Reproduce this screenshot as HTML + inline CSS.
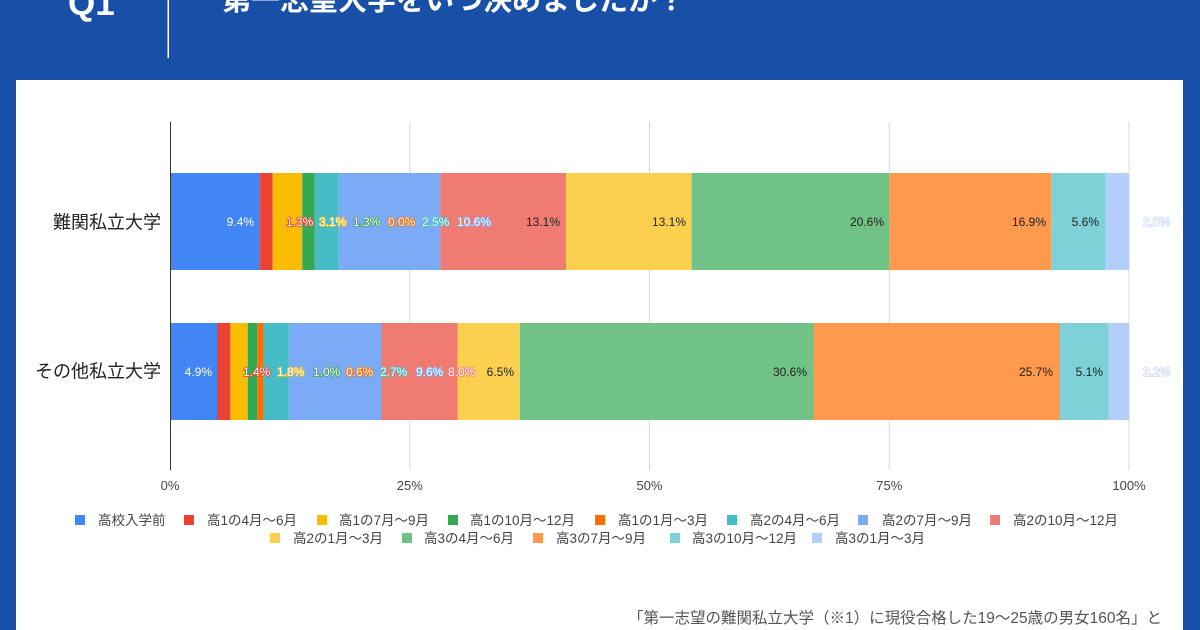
<!DOCTYPE html>
<html lang="ja">
<head>
<meta charset="utf-8">
<style>
  html,body{margin:0;padding:0;width:1200px;height:630px;overflow:hidden;background:#1750a6;}
  svg{display:block;}
  text{font-family:"Liberation Sans","Noto Sans CJK JP",sans-serif;}
</style>
</head>
<body>
<svg width="1200" height="630" viewBox="0 0 1200 630" xmlns="http://www.w3.org/2000/svg">
  <rect x="0" y="0" width="1200" height="630" fill="#1750a6"/>
  <!-- header -->
  <text x="68" y="15" font-size="35" font-weight="bold" fill="#ffffff">Q1</text>
  <rect x="167.5" y="0" width="1.5" height="58" fill="#ffffff"/>
  <text x="222" y="10" font-size="29" font-weight="bold" fill="#ffffff">第一志望大学をいつ決めましたか？</text>

  <!-- card -->
  <rect x="16" y="80" width="1167" height="560" fill="#ffffff"/>

  <!-- gridlines -->
  <g stroke="#d9d9d9" stroke-width="1">
    <line x1="409.75" y1="122" x2="409.75" y2="470"/>
    <line x1="649.5" y1="122" x2="649.5" y2="470"/>
    <line x1="889.25" y1="122" x2="889.25" y2="470"/>
    <line x1="1129" y1="122" x2="1129" y2="470"/>
  </g>

  <!-- bar 1 -->
  <g>
    <rect x="170" y="173" width="90.1" height="97" fill="#4285f4"/>
    <rect x="260.1" y="173" width="12.5" height="97" fill="#ea4335"/>
    <rect x="272.6" y="173" width="29.7" height="97" fill="#fbbc04"/>
    <rect x="302.3" y="173" width="12.5" height="97" fill="#34a853"/>
    <rect x="314.8" y="173" width="24" height="97" fill="#46bdc6"/>
    <rect x="338.8" y="173" width="101.6" height="97" fill="#7baaf7"/>
    <rect x="440.4" y="173" width="125.7" height="97" fill="#f07b72"/>
    <rect x="566.1" y="173" width="125.6" height="97" fill="#fcd04f"/>
    <rect x="691.7" y="173" width="197.55" height="97" fill="#71c287"/>
    <rect x="889.25" y="173" width="162.05" height="97" fill="#ff994d"/>
    <rect x="1051.3" y="173" width="53.7" height="97" fill="#7ed1d7"/>
    <rect x="1105" y="173" width="24" height="97" fill="#b3cefb"/>
  </g>
  <!-- bar 2 -->
  <g>
    <rect x="170" y="323" width="47" height="97" fill="#4285f4"/>
    <rect x="217" y="323" width="13.4" height="97" fill="#ea4335"/>
    <rect x="230.4" y="323" width="17.3" height="97" fill="#fbbc04"/>
    <rect x="247.7" y="323" width="9.6" height="97" fill="#34a853"/>
    <rect x="257.3" y="323" width="5.7" height="97" fill="#ff6d01"/>
    <rect x="263" y="323" width="25.9" height="97" fill="#46bdc6"/>
    <rect x="288.9" y="323" width="92.1" height="97" fill="#7baaf7"/>
    <rect x="381" y="323" width="76.7" height="97" fill="#f07b72"/>
    <rect x="457.7" y="323" width="62.3" height="97" fill="#fcd04f"/>
    <rect x="520" y="323" width="293.5" height="97" fill="#71c287"/>
    <rect x="813.5" y="323" width="246.5" height="97" fill="#ff994d"/>
    <rect x="1060" y="323" width="48.9" height="97" fill="#7ed1d7"/>
    <rect x="1108.9" y="323" width="20.1" height="97" fill="#b3cefb"/>
  </g>

  <!-- baseline axis -->
  <line x1="170.5" y1="122" x2="170.5" y2="470" stroke="#333333" stroke-width="1"/>

  <!-- category labels -->
  <text x="161" y="228.5" font-size="18" fill="#222222" text-anchor="end">難関私立大学</text>
  <text x="161" y="377.5" font-size="18" fill="#222222" text-anchor="end">その他私立大学</text>

  <!-- axis tick labels -->
  <g font-size="13" fill="#444444" text-anchor="middle">
    <text x="170" y="490">0%</text>
    <text x="409.75" y="490">25%</text>
    <text x="649.5" y="490">50%</text>
    <text x="889.25" y="490">75%</text>
    <text x="1129" y="490">100%</text>
  </g>

  <!-- data labels bar 1 -->
  <g font-size="12">
    <text x="254" y="226" fill="#ffffff" text-anchor="end">9.4%</text>
    <g fill="#ffffff" stroke-width="1.6" paint-order="stroke" stroke-linejoin="round">
      <text x="286" y="226" stroke="#ea4335">1.3%</text>
      <text x="319" y="226" stroke="#fbbc04">3.1%</text>
      <text x="353" y="226" stroke="#34a853">1.3%</text>
      <text x="388" y="226" stroke="#ff6d01">0.0%</text>
      <text x="422" y="226" stroke="#46bdc6">2.5%</text>
      <text x="457" y="226" stroke="#7baaf7">10.6%</text>
    </g>
    <text x="560" y="226" fill="#222222" text-anchor="end">13.1%</text>
    <text x="686" y="226" fill="#222222" text-anchor="end">13.1%</text>
    <text x="884" y="226" fill="#222222" text-anchor="end">20.6%</text>
    <text x="1046" y="226" fill="#222222" text-anchor="end">16.9%</text>
    <text x="1099" y="226" fill="#222222" text-anchor="end">5.6%</text>
    <text x="1143" y="226" fill="#ffffff" stroke="#c9d9f8" stroke-width="1.4" paint-order="stroke">2.5%</text>
  </g>
  <!-- data labels bar 2 -->
  <g font-size="12">
    <text x="212" y="376" fill="#ffffff" text-anchor="end">4.9%</text>
    <g fill="#ffffff" stroke-width="1.6" paint-order="stroke" stroke-linejoin="round">
      <text x="243" y="376" stroke="#ea4335">1.4%</text>
      <text x="277" y="376" stroke="#fbbc04">1.8%</text>
      <text x="313" y="376" stroke="#34a853">1.0%</text>
      <text x="346" y="376" stroke="#ff6d01">0.6%</text>
      <text x="380" y="376" stroke="#46bdc6">2.7%</text>
      <text x="416" y="376" stroke="#7baaf7">9.6%</text>
      <text x="448" y="376" stroke="#f07b72">8.0%</text>
    </g>
    <text x="514" y="376" fill="#222222" text-anchor="end">6.5%</text>
    <text x="807" y="376" fill="#222222" text-anchor="end">30.6%</text>
    <text x="1053" y="376" fill="#222222" text-anchor="end">25.7%</text>
    <text x="1103" y="376" fill="#222222" text-anchor="end">5.1%</text>
    <text x="1143" y="376" fill="#ffffff" stroke="#c9d9f8" stroke-width="1.4" paint-order="stroke">2.2%</text>
  </g>

  <!-- legend -->
  <g font-size="13.5" fill="#444444">
    <rect x="75" y="515" width="10" height="10" fill="#4285f4"/><text x="98" y="525">高校入学前</text>
    <rect x="184" y="515" width="10" height="10" fill="#ea4335"/><text x="207" y="525">高1の4月～6月</text>
    <rect x="317" y="515" width="10" height="10" fill="#fbbc04"/><text x="339" y="525">高1の7月～9月</text>
    <rect x="448" y="515" width="10" height="10" fill="#34a853"/><text x="470" y="525">高1の10月～12月</text>
    <rect x="595" y="515" width="10" height="10" fill="#ff6d01"/><text x="618" y="525">高1の1月～3月</text>
    <rect x="727" y="515" width="10" height="10" fill="#46bdc6"/><text x="750" y="525">高2の4月～6月</text>
    <rect x="858" y="515" width="10" height="10" fill="#7baaf7"/><text x="882" y="525">高2の7月～9月</text>
    <rect x="990" y="515" width="10" height="10" fill="#f07b72"/><text x="1013" y="525">高2の10月～12月</text>

    <rect x="270" y="533" width="10" height="10" fill="#fcd04f"/><text x="293" y="543">高2の1月～3月</text>
    <rect x="402" y="533" width="10" height="10" fill="#71c287"/><text x="424" y="543">高3の4月～6月</text>
    <rect x="533" y="533" width="10" height="10" fill="#ff994d"/><text x="556" y="543">高3の7月～9月</text>
    <rect x="670" y="533" width="10" height="10" fill="#7ed1d7"/><text x="692" y="543">高3の10月～12月</text>
    <rect x="812" y="533" width="10" height="10" fill="#b3cefb"/><text x="835" y="543">高3の1月～3月</text>
  </g>

  <!-- footnote -->
  <text x="628" y="623" font-size="15.5" fill="#555555">「第一志望の難関私立大学（※1）に現役合格した19～25歳の男女160名」と</text>
</svg>
</body>
</html>
